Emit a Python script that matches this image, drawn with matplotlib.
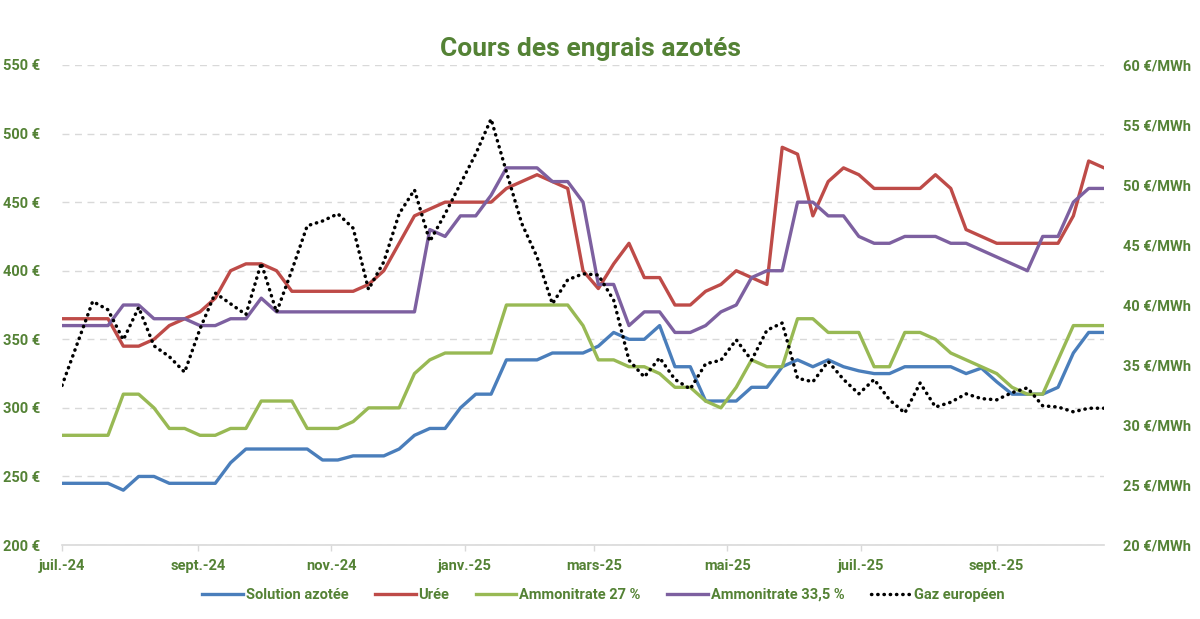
import matplotlib
matplotlib.use('Agg')
import matplotlib.pyplot as plt
import pandas as pd

plt.rcParams['font.family'] = ['Roboto', 'DejaVu Sans']
plt.rcParams['font.weight'] = 'bold'

# Données hebdomadaires (juil. 2024 -> oct. 2025)
dates = pd.date_range('2024-07-01', periods=69, freq='7D')

solution = [245, 245, 245, 245, 240, 250, 250, 245, 245, 245, 245, 260, 270, 270, 270, 270, 270, 262, 262, 265,
            265, 265, 270, 280, 285, 285, 300, 310, 310, 335, 335, 335, 340, 340, 340, 345, 355, 350, 350, 360,
            330, 330, 305, 305, 305, 315, 315, 330, 335, 330, 335, 330, 327, 325, 325, 330, 330, 330, 330, 325,
            329, 319, 310, 310, 310, 315, 340, 355, 355]

uree = [365, 365, 365, 365, 345, 345, 350, 360, 365, 370, 380, 400, 405, 405, 400, 385, 385, 385, 385, 385,
        390, 400, 420, 440, 445, 450, 450, 450, 450, 460, 465, 470, 465, 460, 400, 387, 405, 420, 395, 395,
        375, 375, 385, 390, 400, 395, 390, 490, 485, 440, 465, 475, 470, 460, 460, 460, 460, 470, 460, 430,
        425, 420, 420, 420, 420, 420, 440, 480, 475]

amm27 = [280, 280, 280, 280, 310, 310, 300, 285, 285, 280, 280, 285, 285, 305, 305, 305, 285, 285, 285, 290,
         300, 300, 300, 325, 335, 340, 340, 340, 340, 375, 375, 375, 375, 375, 360, 335, 335, 330, 330, 325,
         315, 315, 305, 300, 315, 335, 330, 330, 365, 365, 355, 355, 355, 330, 330, 355, 355, 350, 340, 335,
         330, 325, 315, 310, 310, 335, 360, 360, 360]

amm335 = [360, 360, 360, 360, 375, 375, 365, 365, 365, 360, 360, 365, 365, 380, 370, 370, 370, 370, 370, 370,
          370, 370, 370, 370, 430, 425, 440, 440, 455, 475, 475, 475, 465, 465, 450, 390, 390, 360, 370, 370,
          355, 355, 360, 370, 375, 395, 400, 400, 450, 450, 440, 440, 425, 420, 420, 425, 425, 425, 420, 420,
          415, 410, 405, 400, 425, 425, 450, 460, 460]

gaz = [33.3, 36.8, 40.3, 39.6, 37.1, 39.8, 36.6, 35.7, 34.4, 38.0, 41.0, 40.1, 39.2, 43.5, 39.4, 42.9, 46.6,
       47.0, 47.6, 46.4, 41.3, 43.6, 47.6, 49.6, 45.3, 47.6, 50.1, 52.6, 55.5, 51.1, 46.8, 44.0, 40.1, 42.1,
       42.6, 42.5, 40.4, 35.4, 34.0, 35.6, 33.8, 33.0, 35.1, 35.4, 37.1, 35.4, 37.9, 38.5, 33.9, 33.6, 35.3,
       33.8, 32.6, 33.8, 32.1, 31.0, 33.5, 31.5, 31.9, 32.6, 32.2, 32.1, 32.7, 33.1, 31.6, 31.5, 31.1, 31.4, 31.4]

tick_dates = pd.to_datetime(['2024-07-01', '2024-09-01', '2024-11-01', '2025-01-01',
                             '2025-03-01', '2025-05-01', '2025-07-01', '2025-09-01'])
tick_labels = ['juil.-24', 'sept.-24', 'nov.-24', 'janv.-25', 'mars-25', 'mai-25', 'juil.-25', 'sept.-25']

vert = '#548235'
gris = '#d9d9d9'

fig = plt.figure(figsize=(12, 6.19), dpi=100)
ax = fig.add_axes([0.0517, 0.1195, 0.8683, 0.7755])
ax2 = ax.twinx()

lw = 2.4
l1, = ax.plot(dates, solution, color='#4a7ebb', lw=lw, label='Solution azotée')
l2, = ax.plot(dates, uree, color='#be4b48', lw=lw, label='Urée')
l3, = ax.plot(dates, amm27, color='#98b954', lw=lw, label='Ammonitrate 27 %')
l4, = ax.plot(dates, amm335, color='#7d60a0', lw=lw, label='Ammonitrate 33,5 %')
l5, = ax2.plot(dates, gaz, color='black', lw=2.5, linestyle=(0, (0.1, 1.7)),
               dash_capstyle='round', label='Gaz européen')

ax.set_xlim(dates[0], dates[-1])
ax.set_ylim(200, 550)
ax2.set_ylim(20, 60)
ax.set_yticks(range(200, 551, 50))
ax.set_yticklabels([f'{v} €' for v in range(200, 551, 50)])
ax2.set_yticks(range(20, 61, 5))
ax2.set_yticklabels([f'{v} €/MWh' for v in range(20, 61, 5)])
ax.set_xticks(tick_dates)
ax.set_xticklabels(tick_labels)

ax.grid(axis='y', color=gris, linestyle=(0, (5, 4)), lw=1)
ax.set_axisbelow(True)
for a in (ax, ax2):
    for s in a.spines.values():
        s.set_visible(False)
ax.spines['bottom'].set_visible(True)
ax.spines['bottom'].set_color(gris)
ax.spines['bottom'].set_linewidth(1.2)

ax.tick_params(axis='y', length=0, pad=16, labelsize=10.5, labelcolor=vert)
ax2.tick_params(axis='y', length=0, pad=14, labelsize=10.5, labelcolor=vert)
ax.tick_params(axis='x', length=4, color=gris, width=1, pad=6, labelsize=10.5, labelcolor=vert)

fig.suptitle('Cours des engrais azotés', x=0.492, y=0.94, fontsize=19, color=vert, fontweight='bold')

leg = fig.legend(handles=[l1, l2, l3, l4, l5], loc='center', bbox_to_anchor=(0.503, 0.039),
                 ncol=5, frameon=False, fontsize=10.5, handlelength=2.8, handletextpad=0.2,
                 columnspacing=1.8)
for t in leg.get_texts():
    t.set_color(vert)

fig.savefig('out.png', dpi=100)
